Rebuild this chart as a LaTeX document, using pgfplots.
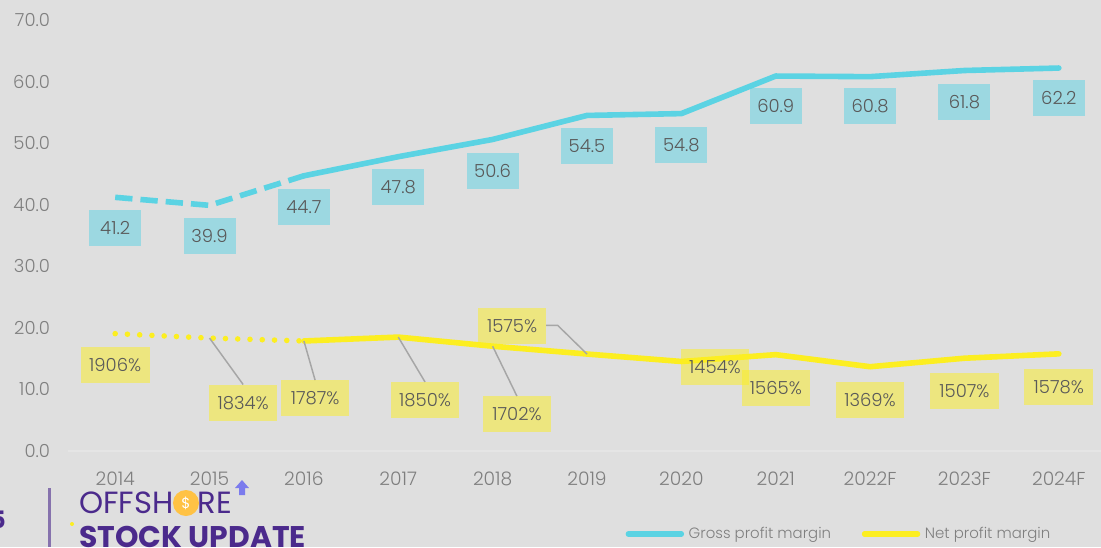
\documentclass[border=0pt]{standalone}
\usepackage{fontspec}
\setmainfont{Poppins Light}
\newfontfamily\logofont{Poppins}
\newfontfamily\logobold{Poppins Bold}
\usepackage{pgfplots}
\usepackage{pgfplotstable}
\pgfplotsset{compat=1.18}
\definecolor{bg}{HTML}{DFDFDF}
\definecolor{gross}{HTML}{5BD3E3}
\definecolor{net}{HTML}{FCEE21}
\definecolor{tick}{HTML}{7F7F7F}
\definecolor{txt}{HTML}{595959}
\definecolor{leader}{HTML}{A6A6A6}
\definecolor{logo}{HTML}{4B2A8C}
\definecolor{coin}{HTML}{FFC244}

\pgfplotstableread{
x y lab
0 36.2 41.2
1 34.9 39.9
2 39.6 44.7
3 42.9 47.8
4 45.5 50.6
5 49.5 54.5
6 49.7 54.8
7 56.0 60.9
8 56.0 60.8
9 56.7 61.8
10 57.3 62.2
}\grosslabels

\pgfplotstableread{
x y lab
0 13.97 1906
1.356 7.80 1834
2.119 8.61 1787
3.284 8.28 1850
4.258 6.01 1702
4.206 20.30 1575
6.356 13.64 1454
7.002 10.23 1565
8 8.28 1369
9 9.74 1507
10 10.39 1578
}\netlabels

\begin{document}
\begin{tikzpicture}
\fill[bg] (0,0) rectangle (825.75pt,-410.25pt);
\useasboundingbox (0,0) rectangle (825.75pt,-410.25pt);
\clip (0,0) rectangle (825.75pt,-410.25pt);
\begin{axis}[
  at={(51pt,-338.25pt)}, anchor=south west,
  scale only axis,
  width=778.5pt, height=338.25pt,
  xmin=-0.5, xmax=10.5, ymin=0, ymax=73.25,
  axis x line=bottom, axis y line=left,
  x axis line style={draw=white!20!bg, line width=1.5pt, -},
  y axis line style={draw=none},
  major tick length=0pt,
  xtick={0,...,10},
  xticklabels={2014,2015,2016,2017,2018,2019,2020,2021,2022F,2023F,2024F},
  ytick={0,10,...,70},
  /pgf/number format/fixed, /pgf/number format/fixed zerofill, /pgf/number format/precision=1,
  /pgf/number format/assume math mode=true,
  tick label style={text=tick},
  xticklabel style={font=\fontsize{14pt}{16pt}\selectfont, text height=10pt, text depth=0pt, yshift=-12pt},
  yticklabel style={font=\fontsize{13.5pt}{16pt}\selectfont, xshift=-10pt},
  clip=false,
  legend style={at={(0.537,-0.184)}, anchor=west, draw=none, fill=none,
    legend columns=2, /tikz/every even column/.style={column sep=21pt},
    font=\fontsize{11.2pt}{15pt}\selectfont, text=tick, inner sep=0pt},
  legend cell align=left,
]
% gross margin, dashed part is the older years
\addplot[gross, line width=4.2pt, dash pattern=on 13pt off 6pt, forget plot] coordinates {
  (0,41.2) (1,39.9) (2,44.7)};
\addplot[gross, line width=4.2pt, line cap=round, line join=round, forget plot] coordinates {
  (2,44.7) (3,47.8) (4,50.6) (5,54.5) (6,54.8) (7,60.9) (8,60.8) (9,61.8) (10,62.2)};
% net margin
\addplot[net, line width=4.2pt, line cap=round, dash pattern=on 0pt off 9.2pt, forget plot] coordinates {
  (0,19.06) (1,18.34) (2,17.87)};
\addplot[net, line width=4.2pt, line cap=round, line join=round, forget plot] coordinates {
  (2,17.87) (3,18.50) (4,17.02) (5,15.75) (6,14.54) (7,15.65) (8,13.69) (9,15.07) (10,15.78)};
% leader lines
\addplot[leader, line width=1.1pt, forget plot] coordinates {(1,18.34) (1.356,10.8)};
\addplot[leader, line width=1.1pt, forget plot] coordinates {(2,17.87) (2.119,11.5)};
\addplot[leader, line width=1.1pt, forget plot] coordinates {(3,18.50) (3.284,11.2)};
\addplot[leader, line width=1.1pt, forget plot] coordinates {(4,17.02) (4.258,8.9)};
\addplot[leader, line width=1.1pt, forget plot] coordinates {(4.566,20.4) (4.69,20.4) (5,15.75)};
% data labels
\addplot[draw=none, forget plot, point meta=explicit symbolic,
  nodes near coords={\pgfplotspointmeta},
  nodes near coords align=center,
  every node near coord/.style={anchor=center, fill=gross, fill opacity=0.5, text opacity=1,
    text=txt, minimum width=39pt, minimum height=27pt, inner sep=0pt, text height=10pt, text depth=0pt,
    font=\fontsize{13.5pt}{16pt}\selectfont}]
  table[x=x, y=y, meta=lab] {\grosslabels};
\addplot[draw=none, forget plot, point meta=explicit symbolic,
  nodes near coords={\pgfplotspointmeta\%},
  nodes near coords align=center,
  every node near coord/.style={anchor=center, fill=net, fill opacity=0.5, text opacity=1,
    text=txt, minimum width=51.5pt, minimum height=27pt, inner sep=0pt, text height=10pt, text depth=0pt,
    font=\fontsize{13.5pt}{16pt}\selectfont}]
  table[x=x, y=y, meta=lab] {\netlabels};
% legend
\addlegendimage{legend image code/.code={\draw[gross, line width=3.8pt, line cap=round] (0,0) -- (40pt,0);}}
\addlegendentry{\hspace{1.5pt}Gross profit margin}
\addlegendimage{legend image code/.code={\draw[net, line width=3.8pt, line cap=round] (0,0) -- (40pt,0);}}
\addlegendentry{\hspace{1.5pt}Net profit margin}
\end{axis}
% logo strip under the chart
\begin{scope}[x=0.75pt,y=-0.75pt]
\node[logo, font=\logobold\fontsize{18pt}{20pt}\selectfont, anchor=center] at (-2,520) {5};
\fill[logo!60!bg] (47.5,488) rectangle (50.5,547);
\fill[net] (72,524) circle (2);
\node[logo, font=\logofont\fontsize{23pt}{24pt}\selectfont, anchor=west, inner sep=0pt] at (79,503) {OFFSH\phantom{O}RE};
\fill[coin] (186,503) circle (13);
\node[white, font=\logofont\fontsize{11pt}{12pt}\selectfont] at (186,503) {\$};
\fill[blue!45!bg] (242,480) -- (249,488) -- (245,488) -- (245,495) -- (239,495) -- (239,488) -- (235,488) -- cycle;
\node[logo, font=\logobold\fontsize{22.4pt}{24pt}\selectfont, anchor=west, inner sep=0pt] at (79,537) {STOCK UPDATE};
\end{scope}
\end{tikzpicture}
\end{document}
